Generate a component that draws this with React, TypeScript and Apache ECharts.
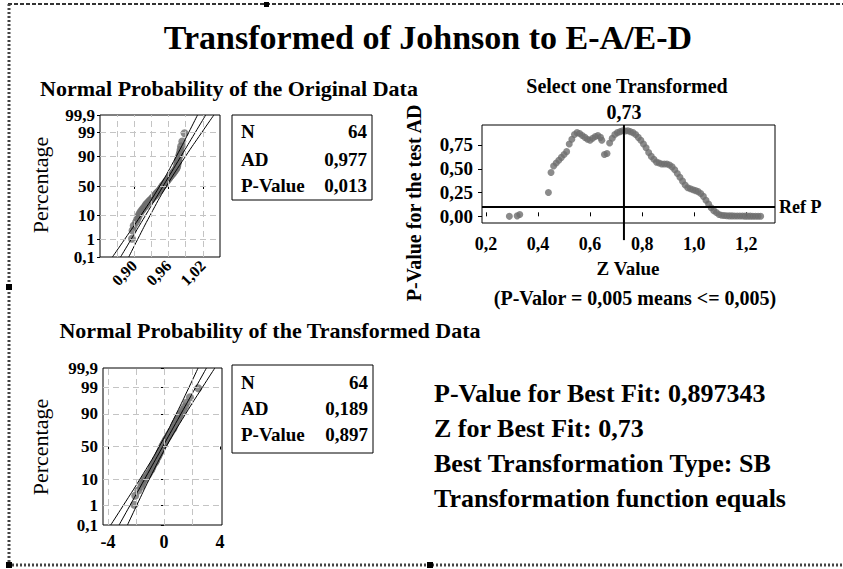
import React, { useEffect, useRef } from "react";
import * as echarts from "echarts";

// ---------- data ----------
const probTickPercents = [0.1, 1, 10, 50, 90, 99, 99.9];
const probTickLabels = ["0,1", "1", "10", "50", "90", "99", "99,9"];
const probGridPercents = [1, 10, 50, 90, 99];

const plotPercents = [
  1.09, 2.64, 4.19, 5.75, 7.3, 8.85, 10.4, 11.96, 13.51, 15.06, 16.61, 18.17, 19.72, 21.27, 22.83, 24.38,
  25.93, 27.48, 29.04, 30.59, 32.14, 33.7, 35.25, 36.8, 38.35, 39.91, 41.46, 43.01, 44.57, 46.12, 47.67, 49.22,
  50.78, 52.33, 53.88, 55.43, 56.99, 58.54, 60.09, 61.65, 63.2, 64.75, 66.3, 67.86, 69.41, 70.96, 72.52, 74.07,
  75.62, 77.17, 78.73, 80.28, 81.83, 83.39, 84.94, 86.49, 88.04, 89.6, 91.15, 92.7, 94.25, 95.81, 97.36, 98.91,
];

const originalData = [
  0.896, 0.897, 0.899, 0.903, 0.905, 0.907, 0.908, 0.91, 0.912, 0.914, 0.916, 0.918, 0.92, 0.921, 0.923, 0.925,
  0.927, 0.929, 0.931, 0.932, 0.934, 0.936, 0.937, 0.939, 0.94, 0.942, 0.943, 0.945, 0.946, 0.947, 0.948, 0.949,
  0.95, 0.952, 0.953, 0.954, 0.955, 0.957, 0.958, 0.959, 0.961, 0.962, 0.963, 0.965, 0.966, 0.968, 0.969, 0.97,
  0.972, 0.973, 0.974, 0.975, 0.975, 0.976, 0.976, 0.977, 0.977, 0.978, 0.979, 0.98, 0.981, 0.982, 0.984, 0.988,
];

const transformedData = [
  -2.12, -2.05, -1.83, -1.62, -1.55, -1.42, -1.36, -1.24, -1.13, -1.05, -0.98, -0.9, -0.86, -0.84, -0.78, -0.73,
  -0.66, -0.61, -0.56, -0.55, -0.5, -0.44, -0.42, -0.37, -0.36, -0.3, -0.29, -0.23, -0.2, -0.18, -0.15, -0.12,
  -0.1, -0.04, -0.02, 0.03, 0.06, 0.12, 0.14, 0.18, 0.25, 0.28, 0.32, 0.38, 0.41, 0.48, 0.52, 0.59,
  0.66, 0.7, 0.72, 0.76, 0.81, 0.88, 0.94, 1.02, 1.08, 1.16, 1.27, 1.38, 1.51, 1.63, 1.86, 2.45,
];

// fitted line and confidence bands, x value at each probTickPercent
const originalFit = [0.876, 0.8944, 0.9196, 0.9505, 0.9814, 1.0066, 1.025];
const originalLower = [0.8617, 0.883, 0.9116, 0.9446, 0.9734, 0.9952, 1.0107];
const originalUpper = [0.8903, 0.9058, 0.9276, 0.9564, 0.9894, 1.018, 1.0393];
const transformedFit = [-3.201, -2.429, -1.373, -0.08, 1.213, 2.269, 3.041];
const transformedLower = [-3.799, -2.908, -1.708, -0.328, 0.878, 1.79, 2.443];
const transformedUpper = [-2.603, -1.95, -1.038, 0.168, 1.548, 2.748, 3.639];

const originalXTicks = [0.9, 0.96, 1.02];
const originalXGrid = [0.87, 0.9, 0.93, 0.96, 0.99, 1.02];
const transformedXTicks = [-4, 0, 4];
const transformedXGrid = [-4, -2, 0, 2];

const zValues = [
  0.29, 0.32, 0.33, 0.44, 0.45, 0.46, 0.47, 0.48, 0.49, 0.5, 0.51, 0.52, 0.53, 0.54, 0.55, 0.56,
  0.57, 0.58, 0.59, 0.6, 0.61, 0.62, 0.63, 0.64, 0.645, 0.655, 0.665, 0.675, 0.685, 0.695, 0.705, 0.715,
  0.725, 0.735, 0.745, 0.755, 0.765, 0.775, 0.785, 0.795, 0.805, 0.815, 0.825, 0.835, 0.845, 0.855, 0.865, 0.875,
  0.885, 0.895, 0.905, 0.915, 0.925, 0.935, 0.945, 0.955, 0.965, 0.975, 0.985, 0.995, 1.005, 1.015, 1.025, 1.035,
  1.045, 1.055, 1.065, 1.075, 1.085, 1.095, 1.105, 1.115, 1.125, 1.135, 1.145, 1.155, 1.165, 1.175, 1.185, 1.195,
  1.205, 1.215, 1.225, 1.235, 1.245, 1.255,
];
const pValues = [
  0.0, 0.005, 0.02, 0.25, 0.46, 0.53, 0.56, 0.59, 0.62, 0.65, 0.68, 0.76, 0.81, 0.86, 0.88, 0.87,
  0.85, 0.83, 0.81, 0.8, 0.82, 0.84, 0.85, 0.83, 0.8, 0.65, 0.66, 0.77, 0.82, 0.86, 0.88, 0.89,
  0.9, 0.897, 0.9, 0.89, 0.88, 0.86, 0.83, 0.8, 0.76, 0.72, 0.67, 0.63, 0.6, 0.57, 0.56, 0.55,
  0.55, 0.55, 0.54, 0.52, 0.49, 0.45, 0.41, 0.37, 0.33, 0.3, 0.29, 0.28, 0.27, 0.26, 0.24, 0.21,
  0.17, 0.13, 0.09, 0.06, 0.04, 0.02, 0.012, 0.008, 0.006, 0.005, 0.005, 0.004, 0.004, 0.003, 0.003, 0.002,
  0.002, 0.002, 0.001, 0.001, 0.001, 0.001,
];
const zTicks = [0.2, 0.4, 0.6, 0.8, 1.0, 1.2];
const pTicks = [0, 0.25, 0.5, 0.75];
const bestZ = 0.73;
const refP = 0.1;

const originalStats = [["N", "64"], ["AD", "0,977"], ["P-Value", "0,013"]];
const transformedStats = [["N", "64"], ["AD", "0,189"], ["P-Value", "0,897"]];
const summaryLines = [
  "P-Value for Best Fit: 0,897343",
  "Z for Best Fit: 0,73",
  "Best Transformation Type: SB",
  "Transformation function equals",
];

// ---------- helpers ----------
const FONT = "Liberation Serif";
const GRAY = "#6e6e6e";

function invNorm(p: number): number {
  const a = [-3.969683028665376e1, 2.209460984245205e2, -2.759285104469687e2, 1.38357751867269e2, -3.066479806614716e1, 2.506628277459239];
  const b = [-5.447609879822406e1, 1.615858368580409e2, -1.556989798598866e2, 6.680131188771972e1, -1.328068155288572e1];
  const c = [-7.784894002430293e-3, -3.223964580411365e-1, -2.400758277161838, -2.549732539343734, 4.374664141464968, 2.938163982698783];
  const d = [7.784695709041462e-3, 3.224671290700398e-1, 2.445134137142996, 3.754408661907416];
  const plow = 0.02425;
  if (p < plow) {
    const q = Math.sqrt(-2 * Math.log(p));
    return (((((c[0] * q + c[1]) * q + c[2]) * q + c[3]) * q + c[4]) * q + c[5]) / ((((d[0] * q + d[1]) * q + d[2]) * q + d[3]) * q + 1);
  }
  if (p <= 1 - plow) {
    const q = p - 0.5;
    const r = q * q;
    return ((((((a[0] * r + a[1]) * r + a[2]) * r + a[3]) * r + a[4]) * r + a[5]) * q) / (((((b[0] * r + b[1]) * r + b[2]) * r + b[3]) * r + b[4]) * r + 1);
  }
  const q = Math.sqrt(-2 * Math.log(1 - p));
  return -(((((c[0] * q + c[1]) * q + c[2]) * q + c[3]) * q + c[4]) * q + c[5]) / ((((d[0] * q + d[1]) * q + d[2]) * q + d[3]) * q + 1);
}

const toZ = (pct: number) => invNorm(pct / 100);
const tickZ = probTickPercents.map(toZ);
const comma = (v: number, d: number) => v.toFixed(d).replace(".", ",");

function probLabel(v: number) {
  let best = 0;
  tickZ.forEach((z, i) => {
    if (Math.abs(z - v) < Math.abs(tickZ[best] - v)) best = i;
  });
  return probTickLabels[best];
}

const bold = (size: number) => ({ fontFamily: FONT, fontWeight: "bold" as const, fontSize: size, color: "#000" });

function probSeries(idx: number, pts: number[], fit: number[], lower: number[], upper: number[], xGrid: number[]) {
  const lineOf = (xs: number[]) => xs.map((x, i) => [x, tickZ[i]]);
  const base = { xAxisIndex: idx, yAxisIndex: idx };
  return [
    {
      ...base,
      type: "line",
      data: [],
      z: 1,
      markLine: {
        silent: true,
        symbol: ["none", "none"],
        label: { show: false },
        lineStyle: { type: [6, 4], color: "#c4c4c4", width: 1 },
        data: [
          ...xGrid.map((x) => ({ xAxis: x })),
          ...probGridPercents.map((p) => ({ yAxis: toZ(p) })),
        ],
      },
    },
    ...[lower, fit, upper].map((xs) => ({
      ...base,
      type: "line",
      data: lineOf(xs),
      smooth: true,
      showSymbol: false,
      symbol: "none",
      z: 3,
      lineStyle: { color: "#000", width: 1 },
    })),
    {
      ...base,
      type: "scatter",
      z: 2,
      symbolSize: 8,
      itemStyle: { color: GRAY },
      data: pts.map((x, i) => [x, toZ(plotPercents[i])]),
    },
  ];
}

function probYAxis(idx: number) {
  return {
    type: "value",
    gridIndex: idx,
    min: toZ(0.1),
    max: toZ(99.9),
    axisLine: { show: false },
    splitLine: { show: false },
    axisTick: { show: true, customValues: tickZ, length: 3, lineStyle: { color: "#000" } },
    axisLabel: { customValues: tickZ, formatter: probLabel, margin: 5, ...bold(17) },
  };
}

function textEl(text: string, x: number, y: number, size: number, opts: any = {}) {
  return {
    type: "text",
    x,
    y,
    rotation: opts.rotation || 0,
    style: {
      text,
      fontFamily: FONT,
      fontWeight: opts.normal ? "normal" : "bold",
      fontSize: size,
      fill: "#000",
      align: opts.align || "center",
      verticalAlign: "middle",
    },
  };
}

function statsBox(x: number, y: number, w: number, h: number, rows: string[][], rowYs: number[]) {
  const children: any[] = [
    { type: "rect", shape: { x, y, width: w, height: h }, style: { fill: "#fff", stroke: "#000", lineWidth: 1 } },
  ];
  rows.forEach((r, i) => {
    children.push(textEl(r[0], x + 9, rowYs[i], 19, { align: "left" }));
    children.push(textEl(r[1], x + w - 5, rowYs[i], 19, { align: "right" }));
  });
  return children;
}

export default function App() {
  const ref = useRef<HTMLDivElement>(null);

  useEffect(() => {
    if (!ref.current) return;
    const chart = echarts.init(ref.current, undefined, { renderer: "svg" });

    const frame = [
      { type: "line", shape: { x1: 8, y1: 4, x2: 843, y2: 4 }, style: { stroke: "#333", lineWidth: 2, lineDash: [4, 2] } },
      { type: "line", shape: { x1: 9, y1: 4, x2: 9, y2: 566 }, style: { stroke: "#444", lineWidth: 3, lineDash: [2, 2] } },
      { type: "line", shape: { x1: 8, y1: 565, x2: 843, y2: 565 }, style: { stroke: "#444", lineWidth: 3, lineDash: [2, 2] } },
      { type: "rect", shape: { x: 6, y: 284, width: 6, height: 6 }, style: { fill: "#000" } },
      { type: "rect", shape: { x: 6, y: 562, width: 6, height: 6 }, style: { fill: "#000" } },
      { type: "rect", shape: { x: 427, y: 562, width: 6, height: 6 }, style: { fill: "#000" } },
      { type: "rect", shape: { x: 264, y: 2, width: 5, height: 5 }, style: { fill: "#000" } },
    ];

    const option: any = {
      animation: false,
      backgroundColor: "#fff",
      textStyle: { fontFamily: FONT },
      grid: [
        { left: 100, top: 115, width: 120, height: 142, show: true, borderColor: "#000", borderWidth: 1, backgroundColor: "#fff" },
        { left: 482, top: 125, width: 293, height: 98, show: true, borderColor: "#000", borderWidth: 1, backgroundColor: "#fff" },
        { left: 103, top: 368, width: 119, height: 157, show: true, borderColor: "#000", borderWidth: 1, backgroundColor: "#fff" },
      ],
      xAxis: [
        {
          type: "value",
          gridIndex: 0,
          min: 0.84,
          max: 1.05,
          axisLine: { show: false },
          splitLine: { show: false },
          axisTick: { show: true, customValues: originalXTicks, length: 3, lineStyle: { color: "#000" } },
          axisLabel: { customValues: originalXTicks, rotate: 45, margin: 6, formatter: (v: number) => comma(v, 2), ...bold(16) },
        },
        {
          type: "value",
          gridIndex: 1,
          min: 0.185,
          max: 1.31,
          offset: 9,
          axisLine: { show: false },
          splitLine: { show: false },
          axisTick: { show: true, inside: true, customValues: zTicks, length: 4, lineStyle: { color: "#000" } },
          axisLabel: { customValues: zTicks, margin: 3, formatter: (v: number) => comma(v, 1), ...bold(18) },
        },
        {
          type: "value",
          gridIndex: 2,
          min: -4.35,
          max: 4.15,
          axisLine: { show: false },
          splitLine: { show: false },
          axisTick: { show: true, customValues: transformedXTicks, length: 3, lineStyle: { color: "#000" } },
          axisLabel: { customValues: transformedXTicks, margin: 8, formatter: (v: number) => String(v), ...bold(18) },
        },
      ],
      yAxis: [
        probYAxis(0),
        {
          type: "value",
          gridIndex: 1,
          min: -0.07,
          max: 0.96,
          axisLine: { show: false },
          splitLine: { show: false },
          axisTick: { show: true, customValues: pTicks, length: 4, lineStyle: { color: "#000" } },
          axisLabel: { customValues: pTicks, margin: 9, formatter: (v: number) => comma(v, 2), ...bold(19) },
        },
        probYAxis(2),
      ],
      series: [
        ...probSeries(0, originalData, originalFit, originalLower, originalUpper, originalXGrid),
        ...probSeries(2, transformedData, transformedFit, transformedLower, transformedUpper, transformedXGrid),
        {
          type: "scatter",
          xAxisIndex: 1,
          yAxisIndex: 1,
          symbolSize: 7,
          itemStyle: { color: GRAY },
          data: zValues.map((z, i) => [z, pValues[i]]),
          markLine: {
            silent: true,
            symbol: ["none", "none"],
            lineStyle: { color: "#000", width: 2, type: "solid" },
            label: { show: true, position: "end", distance: 4, formatter: "Ref P", ...bold(18) },
            data: [{ yAxis: refP }],
          },
        },
        {
          type: "line",
          xAxisIndex: 1,
          yAxisIndex: 1,
          clip: false,
          symbol: "circle",
          symbolSize: 0,
          showSymbol: true,
          lineStyle: { color: "#000", width: 2 },
          data: [
            { value: [bestZ, 0.96], label: { show: true, position: "top", distance: 3, formatter: comma(bestZ, 2), ...bold(20) } },
            { value: [bestZ, -0.25] },
          ],
        },
      ],
      graphic: [
        ...frame,
        textEl("Transformed of Johnson to E-A/E-D", 428, 37, 34),
        textEl("Normal Probability of the Original Data", 229, 88, 22),
        textEl("Select one Transformed", 627, 86, 20),
        textEl("Normal Probability of the Transformed Data", 270, 330, 22),
        textEl("Percentage", 40, 185, 22, { rotation: Math.PI / 2, normal: true }),
        textEl("Percentage", 40, 447, 22, { rotation: Math.PI / 2, normal: true }),
        textEl("P-Value for the test AD", 414, 203, 20, { rotation: Math.PI / 2 }),
        textEl("Z Value", 628, 268, 19),
        textEl("(P-Valor = 0,005 means <= 0,005)", 635, 298, 20),
        ...statsBox(232, 115, 140, 85, originalStats, [131, 159, 185]),
        ...statsBox(232, 365, 141, 88, transformedStats, [382, 408, 434]),
        ...summaryLines.map((t, i) => textEl(t, 434, 393 + i * 35, 26, { align: "left" })),
      ],
    };

    chart.setOption(option);
    return () => chart.dispose();
  }, []);

  return <div ref={ref} style={{ position: "fixed", left: 0, top: 0, width: 843, height: 569 }} />;
}
